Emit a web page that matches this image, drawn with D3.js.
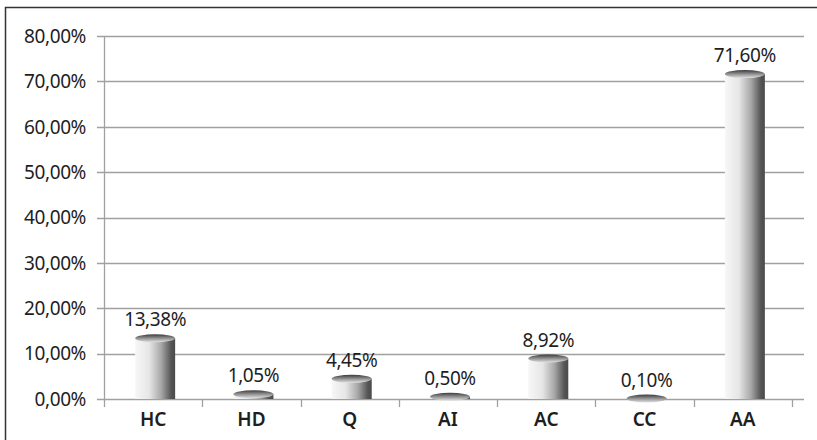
<!DOCTYPE html>
<html>
<head>
<meta charset="utf-8">
<script src="https://cdn.jsdelivr.net/npm/d3@7"></script>
<style>
  html, body { margin: 0; padding: 0; background: #fff; }
  svg { display: block; }
  text { font-family: "Noto Sans", "Open Sans", sans-serif; fill: #1e1e1e; }
</style>
</head>
<body>
<svg id="chart" width="817" height="440"></svg>
<script>
// chart data
const categories = ["HC", "HD", "Q", "AI", "AC", "CC", "AA"];
const values = [13.38, 1.05, 4.45, 0.50, 8.92, 0.10, 71.60];
const yTicks = [0, 10, 20, 30, 40, 50, 60, 70, 80];

const fmt = v => v.toFixed(2).replace(".", ",") + "%";

const svg = d3.select("#chart");

// outer frame (top + left edges visible)
svg.append("path")
  .attr("d", "M5.5,440 V7.5 H817")
  .attr("fill", "none")
  .attr("stroke", "#333")
  .attr("stroke-width", 1.5);

const x = d3.scaleBand().domain(categories).range([104, 792]).paddingInner(0);
const y = d3.scaleLinear().domain([0, 80]).range([399, 36]);

// gradients for cylinders
const defs = svg.append("defs");
const sideGrad = defs.append("linearGradient").attr("id", "cylSide")
  .attr("x1", "0%").attr("x2", "100%").attr("y1", "0%").attr("y2", "0%");
[["0%", "#f7f7f7"], ["35%", "#e6e6e6"], ["65%", "#a8a8a8"], ["90%", "#555"], ["100%", "#4a4a4a"]]
  .forEach(([o, c]) => sideGrad.append("stop").attr("offset", o).attr("stop-color", c));

const topGrad = defs.append("linearGradient").attr("id", "cylTop")
  .attr("x1", "0%").attr("x2", "0%").attr("y1", "0%").attr("y2", "100%");
[["0%", "#3c3c3c"], ["45%", "#8a8a8a"], ["100%", "#e2e2e2"]]
  .forEach(([o, c]) => topGrad.append("stop").attr("offset", o).attr("stop-color", c));

// gridlines + y labels
const grid = svg.append("g");
grid.selectAll("line.grid")
  .data(yTicks)
  .join("line")
  .attr("class", "grid")
  .attr("x1", 97).attr("x2", 804)
  .attr("y1", d => Math.round(y(d)) + 0.5)
  .attr("y2", d => Math.round(y(d)) + 0.5)
  .attr("stroke", "#a0a0a0")
  .attr("stroke-width", 1.3);

grid.selectAll("text")
  .data(yTicks)
  .join("text")
  .attr("x", 86)
  .attr("y", d => y(d))
  .attr("dy", "0.36em")
  .attr("text-anchor", "end")
  .style("font-size", "19px")
  .style("letter-spacing", "-0.4px")
  .text(d => fmt(d));

// y axis line
svg.append("line")
  .attr("x1", 104.5).attr("x2", 104.5)
  .attr("y1", y(80)).attr("y2", 407)
  .attr("stroke", "#a0a0a0").attr("stroke-width", 1.3);

// x ticks at band edges
const edges = categories.map(c => x(c)).concat([x.range()[1]]);
svg.selectAll("line.xtick")
  .data(edges.slice(1))
  .join("line")
  .attr("class", "xtick")
  .attr("x1", d => Math.round(d) + 0.5).attr("x2", d => Math.round(d) + 0.5)
  .attr("y1", 399).attr("y2", 407)
  .attr("stroke", "#a0a0a0").attr("stroke-width", 1.3);

// category labels
svg.selectAll("text.cat")
  .data(categories)
  .join("text")
  .attr("class", "cat")
  .attr("x", d => x(d) + x.bandwidth() / 2)
  .attr("y", 426)
  .attr("text-anchor", "middle")
  .style("font-size", "19px")
  .style("font-weight", "600")
  .text(d => d);

// cylinders
const cw = 40, ry = 4;
const bars = svg.selectAll("g.bar")
  .data(categories.map((c, i) => ({ c, v: values[i] })))
  .join("g")
  .attr("class", "bar")
  .attr("transform", d => `translate(${x(d.c) + x.bandwidth() / 2 + 2},0)`);

bars.append("rect")
  .attr("x", -cw / 2)
  .attr("width", cw)
  .attr("y", d => y(d.v))
  .attr("height", d => y(0) - y(d.v))
  .attr("fill", "url(#cylSide)");

bars.append("ellipse")
  .attr("cx", 0)
  .attr("cy", d => y(d.v))
  .attr("rx", cw / 2)
  .attr("ry", ry)
  .attr("fill", "url(#cylTop)");

// value labels
bars.append("text")
  .attr("x", 0)
  .attr("y", d => y(d.v) - 12)
  .attr("text-anchor", "middle")
  .style("font-size", "19px")
  .style("letter-spacing", "-0.4px")
  .text(d => fmt(d.v));
</script>
</body>
</html>
